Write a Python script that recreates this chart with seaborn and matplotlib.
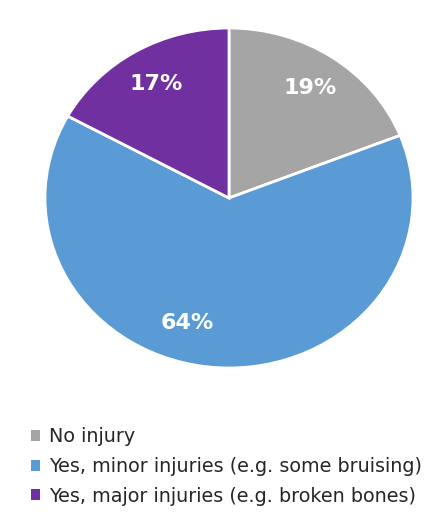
import matplotlib
matplotlib.use("Agg")
import matplotlib.pyplot as plt
import seaborn as sns
import numpy as np

categories = ["No injury",
              "Yes, minor injuries (e.g. some bruising)",
              "Yes, major injuries (e.g. broken bones)"]
values = [19, 64, 17]
colors = ["#A5A5A5", "#5B9BD5", "#7030A0"]

sns.set_theme(style="white")
plt.rcParams['font.family'] = ['DejaVu Sans']

fig = plt.figure(figsize=(4.43, 5.28), dpi=100)
ax = fig.add_axes([45/443, 1-368/528, 368/443, 340/528])
wedges, texts, autotexts = ax.pie(
    values, colors=colors, startangle=90, counterclock=False,
    autopct=lambda p: f"{p:.0f}%", pctdistance=0.78,
    wedgeprops=dict(edgecolor="white", linewidth=2),
    textprops=dict(color="white", fontsize=16, fontweight="bold"))
# move the 64% label slightly left like the reference
ang = np.deg2rad(-107)
autotexts[1].set_position((0.77*np.cos(ang), 0.77*np.sin(ang)))
ax.set_aspect("auto")
ax.set_xlim(-1, 1)
ax.set_ylim(-1, 1)
ax.axis("off")

leg = fig.legend(wedges, categories, loc="upper left",
                 bbox_to_anchor=(0.052, 0.205), frameon=False,
                 fontsize=13.8, handlelength=0.5, handleheight=0.5,
                 handletextpad=0.45, labelspacing=0.55, borderaxespad=0)
for t in leg.get_texts():
    t.set_color("#262626")
for h in leg.legend_handles:
    h.set_edgecolor("none")

fig.savefig("out.png", dpi=100, facecolor="white")
